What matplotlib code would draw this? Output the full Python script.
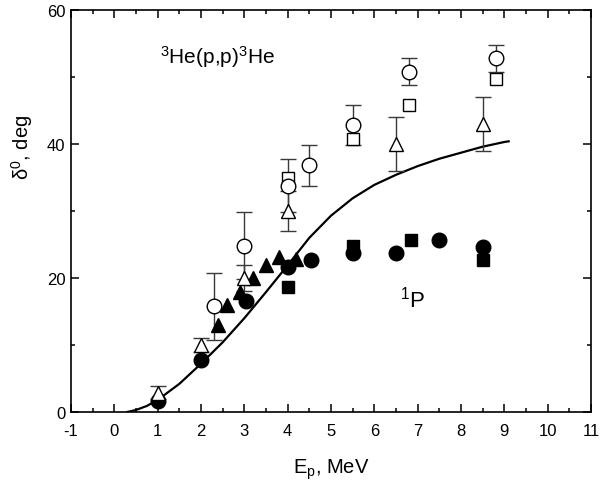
import matplotlib
matplotlib.use("Agg")
import matplotlib.pyplot as plt
from matplotlib.ticker import MultipleLocator

plt.rcParams['font.family'] = ['Liberation Sans', 'DejaVu Sans']
plt.rcParams['mathtext.fontset'] = 'custom'
plt.rcParams['mathtext.rm'] = 'Liberation Sans'
plt.rcParams['mathtext.it'] = 'Liberation Sans'
plt.rcParams['mathtext.bf'] = 'Liberation Sans:bold'
plt.rcParams['axes.unicode_minus'] = False

# Phase-shift calculation (solid curve)
curve_e = [0.3, 0.5, 0.75, 1.0, 1.5, 2.0, 2.5, 3.0, 3.5, 4.0, 4.5, 5.0,
           5.5, 6.0, 6.5, 7.0, 7.5, 8.0, 8.5, 9.0, 9.1]
curve_d = [0.0, 0.3, 0.9, 1.8, 4.2, 7.2, 10.4, 14.0, 17.9, 21.9, 26.0, 29.3,
           31.9, 33.9, 35.4, 36.7, 37.8, 38.7, 39.6, 40.3, 40.4]

# Open circles with errors
oc_e = [2.3, 3.0, 4.0, 4.5, 5.5, 6.8, 8.8]
oc_d = [15.8, 24.8, 33.8, 36.8, 42.8, 50.8, 52.8]
oc_err = [5.0, 5.0, 4.0, 3.0, 3.0, 2.0, 2.0]

# Open squares
os_e = [4.0, 5.5, 6.8, 8.8]
os_d = [34.9, 40.7, 45.8, 49.7]

# Open triangles with errors
ot_e = [1.0, 2.0, 3.0, 4.0, 6.5, 8.5]
ot_d = [2.9, 10.0, 20.0, 30.0, 40.0, 43.0]
ot_err = [1.0, 1.0, 2.0, 3.0, 4.0, 4.0]

# Filled triangles
ft_e = [2.4, 2.6, 2.9, 3.2, 3.5, 3.8, 4.2]
ft_d = [13.0, 16.0, 17.9, 20.0, 21.9, 23.1, 22.9]

# Filled circles
fc_e = [1.0, 2.0, 3.05, 4.0, 4.55, 5.5, 6.5, 7.5, 8.5]
fc_d = [1.7, 7.7, 16.6, 21.7, 22.7, 23.7, 23.7, 25.7, 24.7]

# Filled squares
fs_e = [4.0, 5.5, 6.85, 8.5]
fs_d = [18.6, 24.8, 25.7, 22.7]

fig = plt.figure(figsize=(6.09, 4.81), dpi=100)
ax = fig.add_axes([0.1166, 0.1414, 0.8538, 0.8357])

ax.plot(curve_e, curve_d, color='black', lw=1.6, zorder=2)

ebkw = dict(fmt='none', ecolor='#3a3a3a', elinewidth=1.0, capsize=5.5,
            capthick=1.0, zorder=3)
ax.errorbar(oc_e, oc_d, yerr=oc_err, **ebkw)
ax.errorbar(ot_e, ot_d, yerr=ot_err, **ebkw)

ax.plot(fc_e, fc_d, 'o', ms=10.5, color='black', zorder=4)
ax.plot(fs_e, fs_d, 's', ms=8.5, color='black', zorder=4)
ax.plot(ft_e, ft_d, '^', ms=9.5, color='black', zorder=4)
ax.plot(os_e, os_d, 's', ms=9, mfc='white', mec='black', mew=1.0, zorder=5)
ax.plot(oc_e, oc_d, 'o', ms=10.5, mfc='white', mec='black', mew=1.0, zorder=5)
ax.plot(ot_e, ot_d, '^', ms=10.5, mfc='white', mec='black', mew=1.0, zorder=5)

ax.text(1.05, 53.1, r'$^{3}$He(p,p)$^{3}$He', fontsize=15, va='center', ha='left')
ax.text(6.6, 17.0, r'$^{1}$P', fontsize=16, va='center', ha='left')

ax.set_xlim(-1, 11)
ax.set_ylim(0, 60)
ax.xaxis.set_major_locator(MultipleLocator(1))
ax.xaxis.set_minor_locator(MultipleLocator(0.5))
ax.yaxis.set_major_locator(MultipleLocator(20))
ax.yaxis.set_minor_locator(MultipleLocator(10))
ax.tick_params(which='both', direction='in', top=True, right=True,
               labelsize=12, width=1.1)
ax.tick_params(which='major', length=6)
ax.tick_params(which='minor', length=3)
ax.tick_params(axis='x', which='major', pad=8)
ax.tick_params(axis='y', which='major', pad=4)
for s in ax.spines.values():
    s.set_linewidth(1.2)

ax.set_xlabel(r'E$_\mathrm{p}$, MeV', fontsize=14.5, labelpad=13)
ax.set_ylabel(r'$\mathrm{δ}^{0}$, deg', fontsize=14.5)
ax.yaxis.set_label_coords(-0.07, 0.66)

fig.savefig('out.png', dpi=100)
